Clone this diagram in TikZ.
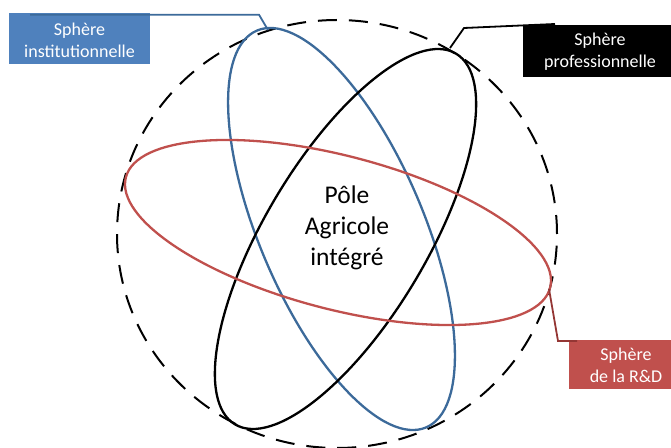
\documentclass[tikz,border=0pt]{standalone}
\usepackage{fontspec}
\setmainfont{Carlito}
\definecolor{bluebox}{HTML}{4F81BD}
\definecolor{blueline}{HTML}{3C6A9A}
\definecolor{redbox}{HTML}{C0504D}
\definecolor{redline}{HTML}{943634}
\begin{document}
\begin{tikzpicture}[x=1pt,y=1pt,
  orbit/.style={line width=2.3pt},
  labeltext/.style={text=white,align=center,font=\fontsize{18}{22}\selectfont},
  conn/.style={line width=1.8pt,line join=miter}]
\useasboundingbox (0,0) rectangle (671,447);
% dashed outer circle
\draw[line width=2pt,dash pattern=on 19pt off 12pt] (337,213) ellipse [x radius=220, y radius=214];
% ellipses
\draw[orbit,blueline] (341.5,218) ellipse [x radius=215.7, y radius=82.1, rotate=113.1];
\draw[orbit,black] (345.5,208) ellipse [x radius=215.8, y radius=81.1, rotate=59.2];
\draw[orbit,redbox] (338,214.5) ellipse [x radius=219.2, y radius=76.7, rotate=-14.6];
% center text
\node (pole) at (347,219) [align=center,font=\fontsize{25.5}{31}\selectfont] {Pôle\\Agricole\\intégré};
% label boxes
\fill[bluebox] (9,383) rectangle (150,434);
\node (sinst) at (79.5,407) [labeltext] {Sphère\\institutionnelle};
\fill[black] (523,370) rectangle (680,422);
\node (sprof) at (600,395) [labeltext] {Sphère\\professionnelle};
\fill[redbox] (569,58) rectangle (680,107);
\node (srd) at (626,82) [labeltext] {Sphère\\de la R\&D};
% connectors
\coordinate (b0) at (30,432.3);
\coordinate (b1) at (259,432.3);
\coordinate (b2) at (268,417);
\draw[conn,blueline] (b0) -- (b1) -- (b2);
\coordinate (k0) at (555,423);
\coordinate (k1) at (464,419);
\coordinate (k2) at (450,399);
\draw[conn,black] (k0) -- (k1) -- (k2);
\coordinate (r0) at (577,106);
\coordinate (r1) at (558,106);
\coordinate (r2) at (549,158);
\draw[conn,redline] (r0) -- (r1) -- (r2);
\end{tikzpicture}
\end{document}
